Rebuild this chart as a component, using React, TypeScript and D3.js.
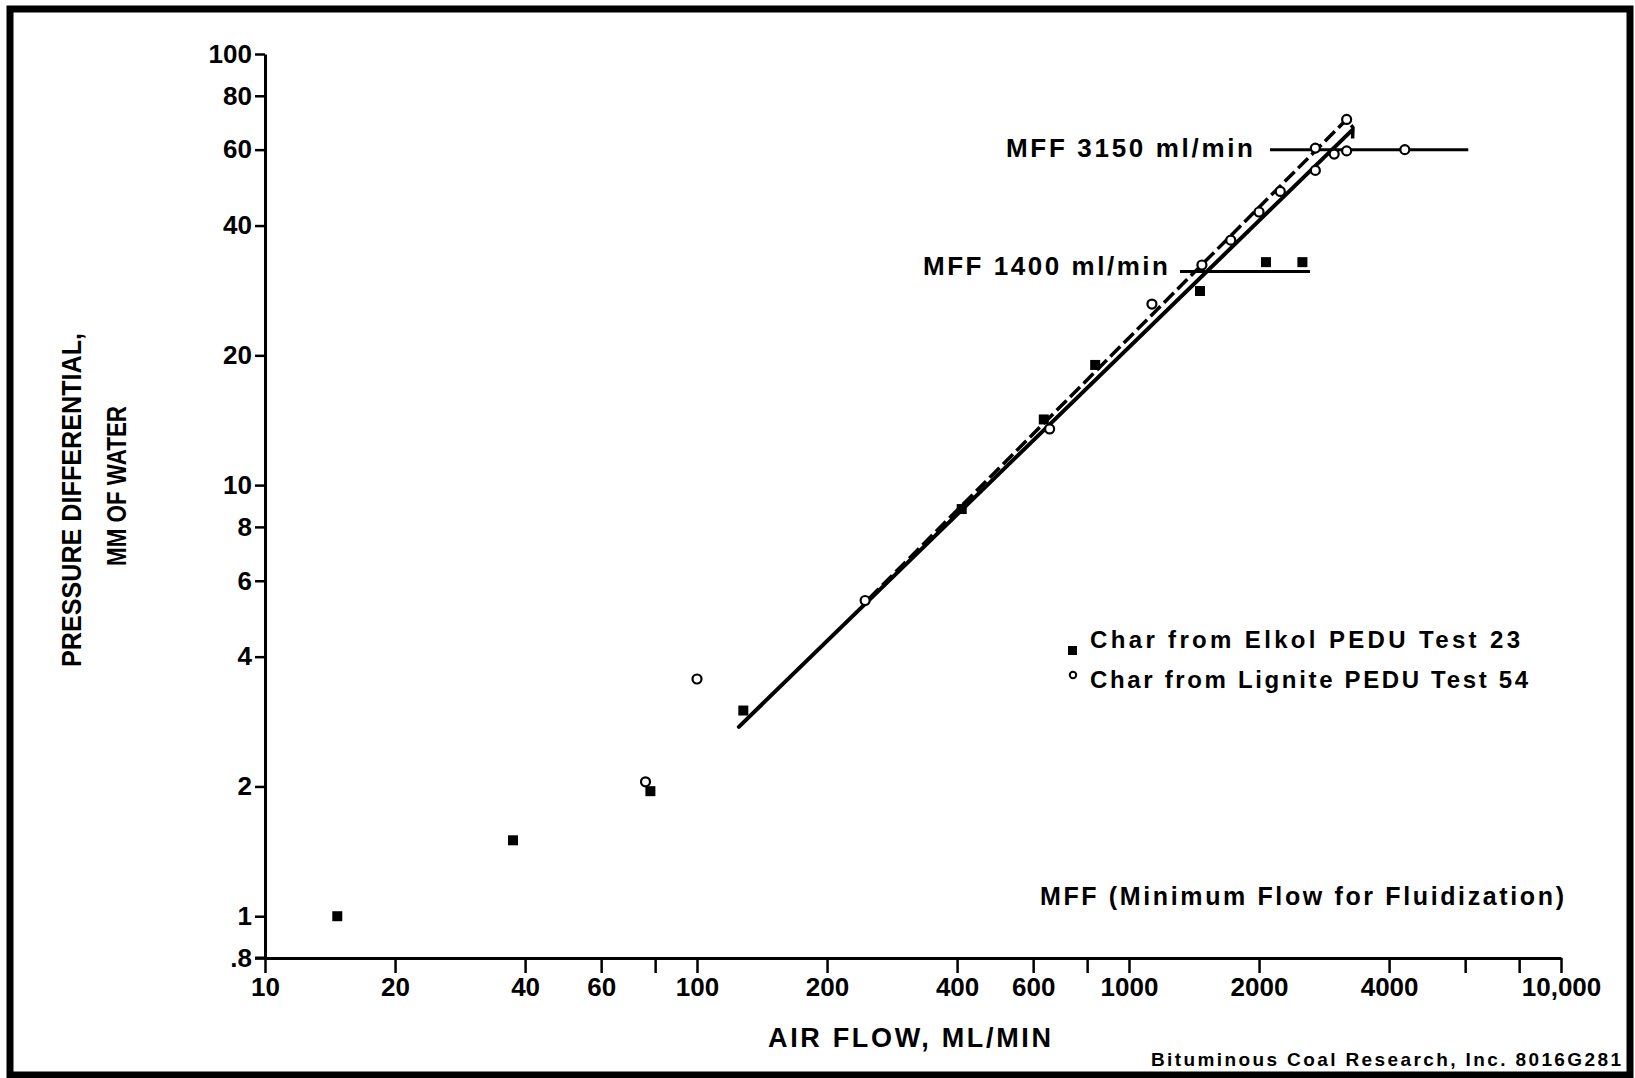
import React, { useEffect, useRef } from 'react';
import * as d3 from 'd3';

// air flow (ml/min) vs pressure differential (mm of water)
const elkolFlow = [14.7, 37.5, 78, 128, 410, 635, 835, 1460, 2075, 2520];
const elkolDp = [1.0, 1.5, 1.95, 3.0, 8.8, 14.2, 19, 28.2, 32.9, 32.9];

const ligniteFlow = [76, 100, 245, 655, 1130, 1475, 1720, 2000, 2240, 2700, 2700, 2985, 3190, 3190, 4350];
const ligniteDp = [2.05, 3.55, 5.4, 13.5, 26.3, 32.4, 37, 43, 48, 53.7, 60.5, 58.6, 59.6, 70.5, 60];

// the two drawn-in fit lines
const solidFitFlow = [125, 3280];
const solidFitDp = [2.75, 66.5];
const dashedFitFlow = [250, 3190, 3300, 3290];
const dashedFitDp = [5.45, 70.5, 67.5, 62.5];

// MFF plateau lines
const mffLabels = ['MFF 3150 ml/min', 'MFF 1400 ml/min'];
const mffDp = [60, 31.3];
const mffFrom = [2120, 1312];
const mffTo = [6100, 2624];

const xTicks = [10, 20, 40, 60, 80, 100, 200, 400, 600, 800, 1000, 2000, 4000, 6000, 8000, 10000];
const xTickLabels = ['10', '20', '40', '60', '', '100', '200', '400', '600', '', '1000', '2000', '4000', '', '', '10,000'];
const yTicks = [0.8, 1, 2, 4, 6, 8, 10, 20, 40, 60, 80, 100];
const yTickLabels = ['.8', '1', '2', '4', '6', '8', '10', '20', '40', '60', '80', '100'];

const legendLabels = ['Char from Elkol PEDU Test 23', 'Char from Lignite PEDU Test 54'];

const FONT = '"Liberation Sans", Arial, sans-serif';

const App = () => {
  const ref = useRef<SVGSVGElement>(null);

  useEffect(() => {
    const svg = d3.select(ref.current);
    svg.selectAll('*').remove();

    const x = d3.scaleLog().domain([10, 10000]).range([265, 1561]);
    const y = d3.scaleLog().domain([0.8, 100]).range([958, 54]);

    // outer frame
    svg.append('rect')
      .attr('x', 10).attr('y', 9)
      .attr('width', 1620).attr('height', 1066)
      .attr('fill', 'none').attr('stroke', '#000').attr('stroke-width', 7);

    // axes
    const xAxis = svg.append('g')
      .attr('transform', `translate(0,${y(0.8)})`)
      .call(d3.axisBottom(x).tickValues(xTicks)
        .tickFormat((d, i) => xTickLabels[i])
        .tickSize(15).tickSizeOuter(0).tickPadding(5));

    const yAxis = svg.append('g')
      .attr('transform', `translate(${x(10)},0)`)
      .call(d3.axisLeft(y).tickValues(yTicks)
        .tickFormat((d, i) => yTickLabels[i])
        .tickSize(10).tickSizeOuter(0).tickPadding(3));

    [xAxis, yAxis].forEach(g => {
      g.select('.domain').attr('stroke-width', 3);
      g.selectAll('.tick line').attr('stroke-width', 2.5);
      g.selectAll('.tick text')
        .attr('font-family', FONT)
        .attr('font-weight', 'bold')
        .attr('font-size', 26)
        .attr('fill', '#000');
    });
    // extend x axis left so it forms the .8 tick
    svg.append('line')
      .attr('x1', x(10) - 10).attr('x2', x(10))
      .attr('y1', y(0.8)).attr('y2', y(0.8))
      .attr('stroke', '#000').attr('stroke-width', 3);

    // fit lines
    const line = d3.line<[number, number]>()
      .x(d => x(d[0]))
      .y(d => y(d[1]));

    svg.append('path')
      .datum(solidFitFlow.map((f, i) => [f, solidFitDp[i]] as [number, number]))
      .attr('fill', 'none')
      .attr('stroke', '#000')
      .attr('stroke-width', 4)
      .attr('stroke-linecap', 'round')
      .attr('d', line);

    svg.append('path')
      .datum(dashedFitFlow.map((f, i) => [f, dashedFitDp[i]] as [number, number]))
      .attr('fill', 'none')
      .attr('stroke', '#000')
      .attr('stroke-width', 3.5)
      .attr('stroke-dasharray', '14,5')
      .attr('stroke-linejoin', 'round')
      .attr('d', line);

    // MFF plateaus and their labels
    const labelX = [1006, 923];
    const labelY = [157, 275];
    const labelW = [247, 245];
    mffLabels.forEach((lab, i) => {
      svg.append('line')
        .attr('x1', x(mffFrom[i])).attr('x2', x(mffTo[i]))
        .attr('y1', y(mffDp[i])).attr('y2', y(mffDp[i]))
        .attr('stroke', '#000').attr('stroke-width', 3);
      svg.append('text')
        .attr('x', labelX[i]).attr('y', labelY[i])
        .attr('font-family', FONT).attr('font-weight', 'bold').attr('font-size', 26)
        .attr('textLength', labelW[i]).attr('lengthAdjust', 'spacing')
        .text(lab);
    });

    // points
    svg.append('g')
      .selectAll('rect')
      .data(elkolFlow.map((f, i) => [f, elkolDp[i]]))
      .join('rect')
      .attr('x', d => x(d[0]) - 5)
      .attr('y', d => y(d[1]) - 5)
      .attr('width', 10).attr('height', 10)
      .attr('fill', '#000');

    svg.append('g')
      .selectAll('circle')
      .data(ligniteFlow.map((f, i) => [f, ligniteDp[i]]))
      .join('circle')
      .attr('cx', d => x(d[0]))
      .attr('cy', d => y(d[1]))
      .attr('r', 4.5)
      .attr('fill', '#fff')
      .attr('stroke', '#000')
      .attr('stroke-width', 2.2);

    // legend
    svg.append('rect')
      .attr('x', 1068).attr('y', 646).attr('width', 9).attr('height', 9).attr('fill', '#000');
    svg.append('circle')
      .attr('cx', 1073).attr('cy', 675).attr('r', 3.2)
      .attr('fill', '#fff').attr('stroke', '#000').attr('stroke-width', 2);
    legendLabels.forEach((lab, i) => {
      svg.append('text')
        .attr('x', 1090).attr('y', 648 + i * 40)
        .attr('font-family', FONT).attr('font-weight', 'bold').attr('font-size', 24)
        .attr('textLength', i === 0 ? 430 : 438).attr('lengthAdjust', 'spacing')
        .text(lab);
    });

    // notes and titles
    const note = (t: string, tx: number, ty: number, size: number, len: number) =>
      svg.append('text')
        .attr('x', tx).attr('y', ty)
        .attr('font-family', FONT).attr('font-weight', 'bold').attr('font-size', size)
        .attr('textLength', len).attr('lengthAdjust', 'spacing')
        .text(t);

    note('MFF (Minimum Flow for Fluidization)', 1040, 905, 25, 524);
    note('AIR FLOW, ML/MIN', 768, 1047, 27, 283);
    note('Bituminous Coal Research, Inc. 8016G281', 1151, 1066, 19, 470);

    const yTitle = (t: string, cx: number, cy: number, len: number) =>
      svg.append('text')
        .attr('transform', `translate(${cx},${cy}) rotate(-90)`)
        .attr('text-anchor', 'middle')
        .attr('dominant-baseline', 'central')
        .attr('font-family', FONT).attr('font-weight', 'bold').attr('font-size', 27)
        .attr('textLength', len).attr('lengthAdjust', 'spacingAndGlyphs')
        .text(t);

    yTitle('PRESSURE DIFFERENTIAL,', 72, 500, 334);
    yTitle('MM OF WATER', 117, 486, 160);
  }, []);

  return (
    <svg
      ref={ref}
      width={1635}
      height={1078}
      style={{ position: 'absolute', left: 0, top: 0, background: '#fff' }}
    />
  );
};

export default App;
